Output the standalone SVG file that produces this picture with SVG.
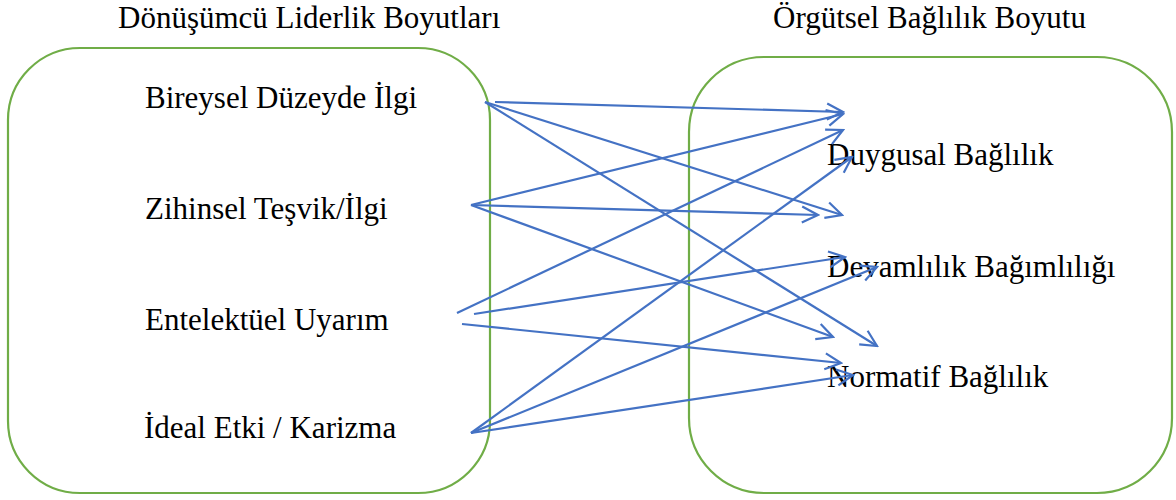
<svg xmlns="http://www.w3.org/2000/svg" width="1176" height="500" viewBox="0 0 1176 500">
<style>
.t{font-family:"Liberation Serif","Times New Roman",serif;font-size:31px;fill:#000}
.box{fill:none;stroke:#70AD47;stroke-width:2.2}
.c{stroke:#4472C4;stroke-width:2.2;fill:none;marker-end:url(#ah)}
</style>
<defs>
<marker id="ah" viewBox="0 0 20 20" refX="18" refY="10" markerWidth="20" markerHeight="20" markerUnits="userSpaceOnUse" orient="auto">
<path d="M2,2 L18,10 L2,18" fill="none" stroke="#4472C4" stroke-width="2.2"/>
</marker>
</defs>
<g id="titles">
<text class="t" x="118" y="28">Dönüşümcü Liderlik Boyutları</text>
<text class="t" x="773" y="28">Örgütsel Bağlılık Boyutu</text>
</g>
<g id="left-box">
<rect class="box" x="8" y="48" width="482" height="445" rx="72" ry="72"/>
<text class="t" x="145" y="108">Bireysel Düzeyde İlgi</text>
<text class="t" x="145" y="219">Zihinsel Teşvik/İlgi</text>
<text class="t" x="145" y="330">Entelektüel Uyarım</text>
<text class="t" x="144" y="438">İdeal Etki / Karizma</text>
</g>
<g id="right-box">
<rect class="box" x="689" y="57" width="483" height="436" rx="75" ry="75"/>
<text class="t" x="827" y="165">Duygusal Bağlılık</text>
<text class="t" x="827" y="277">Devamlılık Bağımlılığı</text>
<text class="t" x="827" y="387">Normatif Bağlılık</text>
</g>
<g id="connectors">
<line class="c" x1="495" y1="102" x2="843" y2="112"/>
<line class="c" x1="485" y1="102" x2="842" y2="215"/>
<line class="c" x1="485" y1="102" x2="877" y2="346"/>
<line class="c" x1="471" y1="205" x2="843" y2="114"/>
<line class="c" x1="471" y1="205" x2="818" y2="215"/>
<line class="c" x1="471" y1="205" x2="833" y2="337"/>
<line class="c" x1="457" y1="313" x2="843" y2="130"/>
<line class="c" x1="474" y1="314" x2="845" y2="257"/>
<line class="c" x1="462" y1="324" x2="841" y2="363"/>
<line class="c" x1="471" y1="433" x2="852" y2="157"/>
<line class="c" x1="471" y1="433" x2="877" y2="267"/>
<line class="c" x1="471" y1="433" x2="853" y2="375"/>
</g>
</svg>
